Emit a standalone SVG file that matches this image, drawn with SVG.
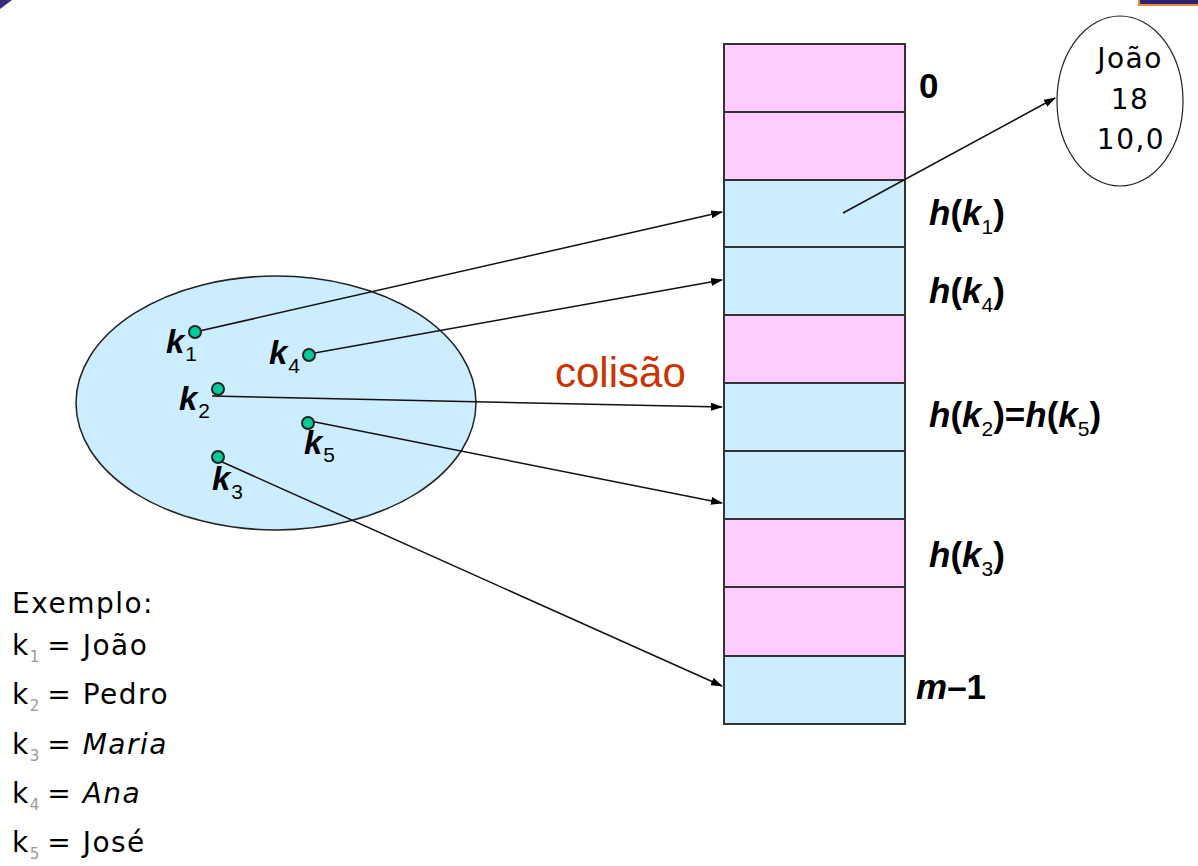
<svg xmlns="http://www.w3.org/2000/svg" width="1198" height="866" viewBox="0 0 1198 866">
  <style>
    .pink { fill: #FFCCFF; stroke: #333; stroke-width: 2; }
    .blue { fill: #CCECFF; stroke: #333; stroke-width: 2; }
    .key { fill: #00CC99; stroke: #222; stroke-width: 2; }
    .edge { stroke: #111; stroke-width: 1.5; fill: none; marker-end: url(#arrow); }
    .kl { font-family: "Liberation Sans", Arial, sans-serif; font-weight: bold; font-style: italic; font-size: 33px; fill: #000; }
    .sub { font-family: "Liberation Sans", Arial, sans-serif; font-size: 21px; fill: #000; font-style: normal; font-weight: normal; }
    .hl { font-family: "Liberation Sans", Arial, sans-serif; font-weight: bold; font-size: 35px; fill: #000; }
    .hand { font-family: "DejaVu Sans", sans-serif; font-size: 28px; letter-spacing: 1.5px; fill: #000; }
    .hsub { font-family: "DejaVu Sans", sans-serif; font-size: 15px; fill: #999; letter-spacing: 0; }
  </style>
  <defs>
    <marker id="arrow" markerWidth="12" markerHeight="8" refX="11" refY="4" orient="auto" markerUnits="userSpaceOnUse">
      <path d="M0,0 L12,4 L0,8 z" fill="#000"/>
    </marker>
  </defs>

  <rect width="1198" height="866" fill="#fff"/>
  <!-- slide corner decorations -->
  <polygon points="0,0 12,0 0,9" fill="#3a2a7a"/>
  <rect x="1139" y="-2" width="62" height="7" fill="#2e1f78" stroke="#f08a30" stroke-width="2"/>

  <!-- key universe -->
  <g id="universe">
    <ellipse cx="276" cy="403" rx="200" ry="127" fill="#CCECFF" stroke="#222" stroke-width="1.5"/>
  </g>

  <!-- hash table slots -->
  <g id="table">
    <rect class="pink" x="724" y="44" width="181" height="68"/>
    <rect class="pink" x="724" y="112" width="181" height="68"/>
    <rect class="blue" x="724" y="180" width="181" height="67"/>
    <rect class="blue" x="724" y="247" width="181" height="68"/>
    <rect class="pink" x="724" y="315" width="181" height="68"/>
    <rect class="blue" x="724" y="383" width="181" height="68"/>
    <rect class="blue" x="724" y="451" width="181" height="68"/>
    <rect class="pink" x="724" y="519" width="181" height="68"/>
    <rect class="pink" x="724" y="587" width="181" height="69"/>
    <rect class="blue" x="724" y="656" width="181" height="68"/>
  </g>

  <!-- connectors -->
  <g id="connectors">
    <line class="edge" x1="195" y1="332" x2="722" y2="212"/>
    <line class="edge" x1="309" y1="354" x2="722" y2="280"/>
    <line class="edge" x1="212" y1="396" x2="722" y2="407"/>
    <line class="edge" x1="305" y1="420" x2="722" y2="503"/>
    <line class="edge" x1="220" y1="461" x2="722" y2="686"/>
    <line class="edge" x1="843" y1="213" x2="1055" y2="98"/>
  </g>

  <!-- keys -->
  <g id="k1">
    <circle class="key" cx="195" cy="332" r="6"/>
    <text class="kl" x="166" y="353">k<tspan class="sub" dx="1" dy="8">1</tspan></text>
  </g>
  <g id="k4">
    <circle class="key" cx="309" cy="355" r="6"/>
    <text class="kl" x="269" y="364">k<tspan class="sub" dx="1" dy="9">4</tspan></text>
  </g>
  <g id="k2">
    <circle class="key" cx="218" cy="389" r="6"/>
    <text class="kl" x="179" y="410">k<tspan class="sub" dx="1" dy="8">2</tspan></text>
  </g>
  <g id="k5">
    <circle class="key" cx="308" cy="423" r="6"/>
    <text class="kl" x="304" y="454">k<tspan class="sub" dx="1" dy="8">5</tspan></text>
  </g>
  <g id="k3">
    <circle class="key" cx="218" cy="457" r="6"/>
    <text class="kl" x="212" y="490">k<tspan class="sub" dx="1" dy="9">3</tspan></text>
  </g>

  <!-- slot labels -->
  <g id="labels">
    <text class="hl" x="919" y="98" font-size="30">0</text>
    <text class="hl" x="929" y="225"><tspan font-style="italic">h</tspan>(<tspan font-style="italic">k</tspan><tspan class="sub" dy="9">1</tspan><tspan dy="-9">)</tspan></text>
    <text class="hl" x="929" y="303"><tspan font-style="italic">h</tspan>(<tspan font-style="italic">k</tspan><tspan class="sub" dy="9">4</tspan><tspan dy="-9">)</tspan></text>
    <text class="hl" x="929" y="427"><tspan font-style="italic">h</tspan>(<tspan font-style="italic">k</tspan><tspan class="sub" dy="9">2</tspan><tspan dy="-9">)=</tspan><tspan font-style="italic">h</tspan>(<tspan font-style="italic">k</tspan><tspan class="sub" dy="9">5</tspan><tspan dy="-9">)</tspan></text>
    <text class="hl" x="929" y="567"><tspan font-style="italic">h</tspan>(<tspan font-style="italic">k</tspan><tspan class="sub" dy="9">3</tspan><tspan dy="-9">)</tspan></text>
    <text class="hl" x="916" y="699"><tspan font-style="italic">m</tspan>–1</text>
    <text x="555" y="387" font-family="Liberation Sans, Arial, sans-serif" font-size="42" fill="#CC3300">colisão</text>
  </g>

  <!-- record for k1 -->
  <g id="record">
    <ellipse cx="1120" cy="101" rx="63" ry="85" fill="#fff" stroke="#222" stroke-width="1.2"/>
    <text class="hand" x="1130" y="68" text-anchor="middle" font-size="29" letter-spacing="3">João</text>
    <text class="hand" x="1130" y="109" text-anchor="middle" font-size="29">18</text>
    <text class="hand" x="1131" y="149" text-anchor="middle" font-size="29">10,0</text>
  </g>

  <!-- example legend -->
  <g id="example">
    <text class="hand" x="12" y="613">Exemplo:</text>
    <text class="hand" x="12" y="655">k<tspan class="hsub" dy="7">1</tspan><tspan dx="8" dy="-7">= João</tspan></text>
    <text class="hand" x="12" y="704">k<tspan class="hsub" dy="7">2</tspan><tspan dx="8" dy="-7">= Pedro</tspan></text>
    <text class="hand" x="12" y="754">k<tspan class="hsub" dy="7">3</tspan><tspan dx="8" dy="-7">= <tspan font-style="italic">Maria</tspan></tspan></text>
    <text class="hand" x="12" y="803">k<tspan class="hsub" dy="7">4</tspan><tspan dx="8" dy="-7">= <tspan font-style="italic">Ana</tspan></tspan></text>
    <text class="hand" x="12" y="852">k<tspan class="hsub" dy="7">5</tspan><tspan dx="8" dy="-7">= José</tspan></text>
  </g>
</svg>
